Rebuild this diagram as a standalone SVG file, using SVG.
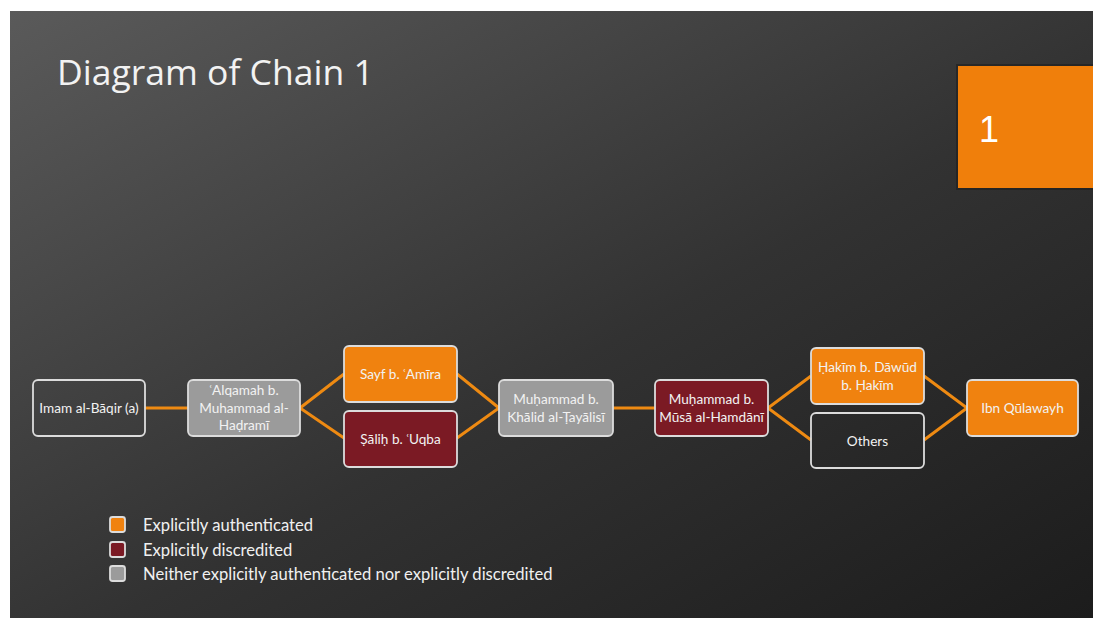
<svg xmlns="http://www.w3.org/2000/svg" width="1093" height="619" viewBox="0 0 1093 619">
<defs>
<linearGradient id="bg" x1="0" y1="0" x2="1" y2="1">
<stop offset="0" stop-color="#5a5a5a"/>
<stop offset="0.55" stop-color="#323232"/>
<stop offset="1" stop-color="#1c1c1c"/>
</linearGradient>
<style>
.node{stroke:#dcdcdc;stroke-width:1.8}
.auth{fill:#f0820f}
.disc{fill:#7b1a24}
.neither{fill:#9b9b9b}
.other{fill:none}
.lbl{font-family:Lato,"Liberation Sans","DejaVu Sans",sans-serif;font-size:13.6px;fill:#f2f2f2;text-anchor:middle}
.conn{stroke:#ee8a12;stroke-width:3;fill:none}
.leg{font-family:Lato,"Liberation Sans","DejaVu Sans",sans-serif;font-size:16.6px;fill:#f0f0f0}
</style>
</defs>
<rect x="0" y="0" width="1093" height="619" fill="#ffffff"/>
<rect x="10" y="11" width="1083" height="607" fill="url(#bg)"/>
<text x="57" y="85" font-family="'Open Sans','Liberation Sans',sans-serif" font-size="35.5" fill="#f2f2f2">Diagram of Chain 1</text>
<g id="badge">
<rect x="956" y="64" width="137" height="126" fill="#1a1a1a" opacity="0.5"/>
<rect x="958" y="66" width="135" height="122" fill="#f07f0b"/>
<text x="979" y="142" font-family="'Liberation Sans',Arial,sans-serif" font-size="36" fill="#ffffff">1</text>
</g>
<g id="connectors">
<line class="conn" x1="145" y1="408" x2="188" y2="408"/>
<polyline class="conn" points="344,374 300,408 344,438"/>
<polyline class="conn" points="457,374 499,408 457,438"/>
<line class="conn" x1="613" y1="408" x2="655" y2="408"/>
<polyline class="conn" points="811,376 768,408 811,440"/>
<polyline class="conn" points="924,376 967,408 924,440"/>
</g>
<g id="n-baqir"><rect class="node other" x="33" y="380" width="112" height="56" rx="5"/><text class="lbl" x="89" y="413">Imam al-Bāqir (a)</text></g>
<g id="n-alqamah"><rect class="node neither" x="188" y="380" width="112" height="56" rx="5"/><text class="lbl" x="244" y="395">ʿAlqamah b.</text><text class="lbl" x="244" y="413">Muhammad al-</text><text class="lbl" x="244" y="430">Haḍramī</text></g>
<g id="n-sayf"><rect class="node auth" x="344" y="346" width="113" height="56" rx="5"/><text class="lbl" x="400.5" y="379">Sayf b. ʿAmīra</text></g>
<g id="n-salih"><rect class="node disc" x="344" y="411" width="113" height="56" rx="5"/><text class="lbl" x="400.5" y="444">Ṣāliḥ b. ʿUqba</text></g>
<g id="n-khalid"><rect class="node neither" x="499" y="380" width="114" height="56" rx="5"/><text class="lbl" x="556" y="404">Muḥammad b.</text><text class="lbl" x="556" y="422">Khālid al-Ṭayālisī</text></g>
<g id="n-musa"><rect class="node disc" x="655" y="380" width="113" height="56" rx="5"/><text class="lbl" x="711.5" y="404">Muḥammad b.</text><text class="lbl" x="711.5" y="422">Mūsā al-Hamdānī</text></g>
<g id="n-hakim"><rect class="node auth" x="811" y="348" width="113" height="56" rx="5"/><text class="lbl" x="867.5" y="372">Ḥakīm b. Dāwūd</text><text class="lbl" x="867.5" y="390">b. Ḥakīm</text></g>
<g id="n-others"><rect class="node other" x="811" y="413" width="113" height="55" rx="5"/><text class="lbl" x="867.5" y="446">Others</text></g>
<g id="n-ibn"><rect class="node auth" x="967" y="380" width="111" height="56" rx="5"/><text class="lbl" x="1022.5" y="413">Ibn Qūlawayh</text></g>
<g id="legend">
<rect class="node auth" x="110" y="517" width="15" height="15" rx="2.5"/>
<rect class="node disc" x="110" y="542" width="15" height="15" rx="2.5"/>
<rect class="node neither" x="110" y="566" width="15" height="15" rx="2.5"/>
<text class="leg" x="143" y="531">Explicitly authenticated</text>
<text class="leg" x="143" y="556">Explicitly discredited</text>
<text class="leg" x="143" y="580">Neither explicitly authenticated nor explicitly discredited</text>
</g>
</svg>
